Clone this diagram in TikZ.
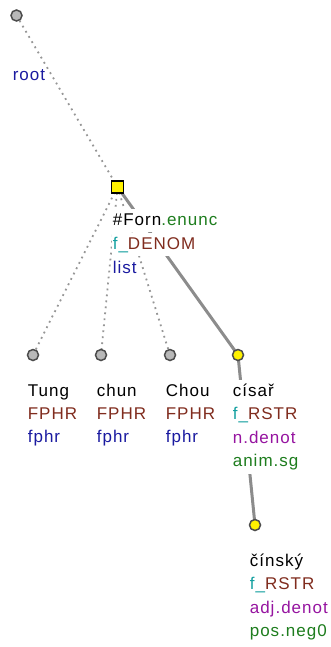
\documentclass[tikz,border=0pt]{standalone}
\usepackage{fontspec}
\setmainfont{Liberation Sans}[LetterSpace=6]
\definecolor{tbrown}{RGB}{128,44,30}
\definecolor{tteal}{RGB}{20,160,160}
\definecolor{tblue}{RGB}{26,26,160}
\definecolor{tpurple}{RGB}{150,20,160}
\definecolor{tgreen}{RGB}{30,125,30}
\definecolor{edgegray}{RGB}{140,140,140}
\definecolor{dotgray}{RGB}{150,150,150}
\begin{document}
\begin{tikzpicture}[x=1pt,y=-1pt,
  lbl/.style={anchor=base west,inner xsep=0.6pt,inner ysep=0.5pt,text height=16pt,text depth=6.5pt,fill=white,font=\fontsize{17}{19}\selectfont},
  hidden/.style={circle,draw=black!70,line width=1.5pt,fill=black!28,minimum size=11pt,inner sep=0pt},
  yel/.style={circle,draw=black!70,line width=1.5pt,fill=yellow,minimum size=11pt,inner sep=0pt},
  yelsq/.style={rectangle,draw=black,line width=1.3pt,fill=yellow,minimum size=12pt,inner sep=0pt},
  dotedge/.style={draw=dotgray,line width=1.8pt,dash pattern=on 1.8pt off 4.2pt},
  solidedge/.style={draw=edgegray,line width=3pt}]
\useasboundingbox (0,0) rectangle (331,647);
% edges first (behind nodes and labels)
\coordinate (cr) at (16.5,15.5);
\coordinate (cf) at (117.5,187);
\coordinate (ct) at (33,355);
\coordinate (cc) at (101,355);
\coordinate (co) at (170,355);
\coordinate (cs) at (238,355);
\coordinate (ci) at (255,525);
\draw[dotedge] (cr) -- (cf);
\draw[dotedge] (cf) -- (ct);
\draw[dotedge] (cf) -- (cc);
\draw[dotedge] (cf) -- (co);
\draw[solidedge] (cf) -- (cs);
\draw[solidedge] (cs) -- (ci);
% nodes
\node[hidden] (root) at (cr) {};
\node[yelsq] (forn) at (cf) {};
\node[hidden] (tung) at (ct) {};
\node[hidden] (chun) at (cc) {};
\node[hidden] (chou) at (co) {};
\node[yel] (cisar) at (cs) {};
\node[yel] (cinsky) at (ci) {};
% labels
\node[lbl,text=tblue] (lroot) at (12,81) {root};
\node[lbl] (lf1) at (112,225) {\#Forn\textcolor{tgreen}{.enunc}};
\node[lbl] (lf2) at (112,249) {\textcolor{tteal}{f\_}\textcolor{tbrown}{DENOM}};
\node[lbl,text=tblue] (lf3) at (112,273) {list};
\foreach \nm/\x/\w in {tung/27/Tung,chun/96/chun,chou/165/Chou} {
  \node[lbl] (\nm1) at (\x,396) {\w};
  \node[lbl,text=tbrown] (\nm2) at (\x,419) {FPHR};
  \node[lbl,text=tblue] (\nm3) at (\x,442) {fphr};
}
\node[lbl] (lc1) at (232,396) {císař};
\node[lbl] (lc2) at (232,419.5) {\textcolor{tteal}{f\_}\textcolor{tbrown}{RSTR}};
\node[lbl,text=tpurple] (lc3) at (232,443) {n.denot};
\node[lbl,text=tgreen] (lc4) at (232,466.5) {anim.sg};
\node[lbl] (ld1) at (249,566) {čínský};
\node[lbl] (ld2) at (249,589.5) {\textcolor{tteal}{f\_}\textcolor{tbrown}{RSTR}};
\node[lbl,text=tpurple] (ld3) at (249,613) {adj.denot};
\node[lbl,text=tgreen] (ld4) at (249,636.5) {pos.neg0};
\end{tikzpicture}
\end{document}
